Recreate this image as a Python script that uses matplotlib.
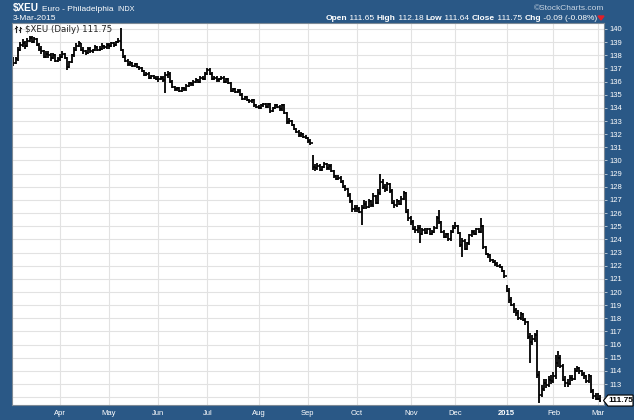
import numpy as np
import pandas as pd
import matplotlib
matplotlib.use('Agg')
import matplotlib.pyplot as plt
from matplotlib.patches import Polygon
from matplotlib.lines import Line2D

W, H = 634, 420

# trading calendar for the year shown
first_day, last_day = '2014-03-04', '2015-03-03'
holidays = ['2014-04-18', '2014-05-26', '2014-07-04', '2014-09-01', '2014-11-27',
            '2014-12-25', '2015-01-01', '2015-01-19', '2015-02-16']

# daily close / high / low of $XEU, one row per month
close_ = (
    [137.4, 137.7, 138.4, 138.8, 138.9, 138.7, 139.1, 139.3, 139.0, 139.2, 138.8, 138.5, 138.3, 137.9, 138.1, 138.0, 137.8, 138.0, 137.6, 137.7]
    + [137.9, 138.1, 137.8, 137.1, 137.5, 138.0, 138.4, 138.7, 138.9, 138.4, 138.3, 138.2, 138.5, 138.3, 138.4, 138.6, 138.4, 138.5, 138.7, 138.6, 138.8]
    + [138.7, 138.9, 138.8, 139.0, 139.1, 138.4, 137.9, 137.6, 137.3, 137.4, 137.2, 137.3, 137.1, 137.0, 136.8, 136.5, 136.6, 136.3, 136.4, 136.3, 136.2]
    + [136.2, 136.3, 136.1, 136.5, 136.6, 136.0, 135.6, 135.4, 135.5, 135.3, 135.5, 135.4, 135.7, 135.9, 135.8, 136.0, 136.1, 136.0, 136.3, 136.2, 136.6]
    + [136.9, 136.6, 136.2, 136.3, 136.1, 136.2, 136.3, 136.0, 136.2, 135.9, 135.3, 135.4, 135.2, 135.3, 135.0, 134.7, 134.8, 134.6, 134.5, 134.6, 134.2, 134.1]
    + [134.0, 134.2, 134.3, 134.1, 134.3, 133.8, 134.0, 134.2, 134.1, 133.9, 134.2, 133.6, 132.9, 133.0, 132.7, 132.4, 132.2, 131.9, 132.0, 131.8, 131.7]
    + [131.5, 131.3, 129.5, 129.4, 129.6, 129.3, 129.5, 129.7, 129.4, 129.6, 129.2, 128.8, 128.6, 128.7, 128.4, 128.0, 127.8, 127.4, 126.9, 126.3, 126.4]
    + [126.3, 126.1, 126.4, 126.7, 126.5, 126.9, 126.6, 127.3, 126.8, 127.5, 128.4, 128.0, 127.8, 128.2, 127.7, 126.8, 126.6, 126.9, 126.7, 127.1, 127.5, 126.1, 125.6]
    + [125.3, 124.8, 124.7, 124.9, 124.4, 124.7, 124.5, 124.8, 124.4, 124.6, 124.9, 125.6, 125.3, 124.6, 124.2, 124.4, 124.0, 124.6, 124.9]
    + [125.0, 124.5, 123.6, 123.9, 123.3, 123.7, 124.3, 124.6, 124.4, 124.8, 124.6, 125.0, 123.4, 122.9, 122.8, 122.4, 122.3, 122.1, 122.0, 121.9, 121.6, 121.2]
    + [120.1, 119.4, 119.0, 118.6, 118.4, 118.0, 118.3, 117.9, 117.7, 116.6, 116.2, 116.4, 116.7, 113.7, 112.2, 112.6, 113.1, 112.9, 113.3, 113.2]
    + [113.6, 114.6, 115.0, 114.4, 113.3, 113.1, 113.0, 113.5, 113.4, 114.0, 114.2, 114.0, 113.8, 113.6, 113.2, 113.6, 112.5, 112.1, 111.9]
    + [111.84, 111.75]
)
high_ = (
    [137.9, 137.9, 138.6, 139.0, 139.2, 139.1, 139.3, 139.5, 139.5, 139.4, 139.3, 138.9, 138.7, 138.4, 138.3, 138.3, 138.2, 138.2, 138.1, 137.9]
    + [138.1, 138.3, 138.2, 137.9, 137.6, 138.1, 138.6, 138.9, 139.1, 138.9, 138.6, 138.4, 138.6, 138.6, 138.5, 138.8, 138.7, 138.7, 138.9, 138.8, 138.9]
    + [138.9, 139.0, 139.0, 139.1, 139.3, 140.1, 138.5, 138.0, 137.7, 137.6, 137.5, 137.4, 137.4, 137.2, 137.1, 136.9, 136.7, 136.7, 136.5, 136.5, 136.4]
    + [136.4, 136.4, 136.4, 136.7, 136.8, 136.7, 136.1, 135.7, 135.6, 135.6, 135.6, 135.6, 135.8, 136.0, 136.0, 136.1, 136.3, 136.2, 136.4, 136.4, 136.7]
    + [137.0, 137.0, 136.7, 136.4, 136.4, 136.3, 136.4, 136.4, 136.3, 136.3, 136.0, 135.5, 135.5, 135.4, 135.4, 135.1, 134.9, 134.9, 134.7, 134.7, 134.7, 134.3]
    + [134.2, 134.3, 134.4, 134.4, 134.4, 134.4, 134.1, 134.3, 134.3, 134.2, 134.3, 134.3, 133.7, 133.2, 133.1, 132.8, 132.5, 132.3, 132.2, 132.1, 131.9]
    + [131.8, 131.6, 130.4, 129.7, 129.8, 129.7, 129.6, 129.9, 129.8, 129.7, 129.7, 129.3, 128.9, 128.9, 128.8, 128.5, 128.1, 127.9, 127.5, 127.0, 126.6]
    + [126.6, 126.5, 126.6, 127.0, 126.9, 127.1, 127.0, 127.5, 127.4, 127.8, 129.0, 128.6, 128.2, 128.4, 128.3, 127.8, 127.0, 127.1, 127.0, 127.3, 127.7, 127.6, 126.3]
    + [125.8, 125.5, 125.0, 125.1, 125.1, 124.9, 124.9, 124.9, 124.9, 124.7, 125.0, 125.8, 126.2, 125.4, 124.7, 124.5, 124.5, 124.7, 125.1]
    + [125.3, 125.1, 124.6, 124.1, 124.0, 123.8, 124.4, 124.7, 124.7, 124.9, 124.9, 125.6, 125.1, 123.5, 123.0, 122.9, 122.5, 122.4, 122.3, 122.1, 122.0, 121.7]
    + [120.5, 120.3, 119.6, 119.2, 118.8, 118.6, 118.5, 118.4, 118.0, 117.8, 116.9, 116.7, 116.9, 117.1, 114.0, 112.9, 113.4, 113.4, 113.6, 113.7]
    + [113.9, 115.2, 115.5, 115.2, 114.5, 113.6, 113.4, 113.7, 113.7, 114.2, 114.4, 114.3, 114.1, 113.9, 113.7, 113.8, 113.7, 112.6, 112.3]
    + [112.3, 112.18]
)
low_ = (
    [137.2, 137.3, 137.6, 138.3, 138.6, 138.5, 138.6, 139.0, 138.9, 138.9, 138.7, 138.3, 138.1, 137.8, 137.8, 137.8, 137.6, 137.7, 137.5, 137.5]
    + [137.6, 137.8, 137.7, 136.9, 137.0, 137.4, 137.9, 138.3, 138.6, 138.3, 138.1, 138.0, 138.1, 138.2, 138.2, 138.3, 138.3, 138.3, 138.4, 138.5, 138.5]
    + [138.5, 138.6, 138.6, 138.7, 138.9, 138.3, 137.8, 137.5, 137.2, 137.2, 137.1, 137.1, 137.0, 136.9, 136.7, 136.4, 136.4, 136.2, 136.2, 136.2, 136.1]
    + [136.0, 136.1, 136.0, 135.1, 136.3, 135.9, 135.5, 135.3, 135.3, 135.2, 135.2, 135.3, 135.3, 135.6, 135.7, 135.7, 135.9, 135.9, 135.9, 136.1, 136.1]
    + [136.5, 136.5, 136.1, 136.1, 136.0, 136.0, 136.1, 135.9, 135.9, 135.8, 135.2, 135.2, 135.1, 135.1, 134.9, 134.6, 134.6, 134.5, 134.4, 134.4, 134.1, 134.0]
    + [133.9, 133.9, 134.1, 134.0, 134.0, 133.6, 133.7, 133.9, 134.0, 133.8, 133.8, 133.5, 132.8, 132.8, 132.6, 132.3, 132.1, 131.8, 131.8, 131.7, 131.6]
    + [131.3, 131.2, 129.3, 129.2, 129.3, 129.2, 129.2, 129.4, 129.3, 129.3, 129.1, 128.7, 128.5, 128.5, 128.3, 127.9, 127.7, 127.2, 126.8, 126.1, 126.1]
    + [126.1, 126.0, 125.1, 126.3, 126.3, 126.4, 126.5, 126.5, 126.7, 126.7, 127.4, 127.8, 127.6, 127.7, 127.5, 126.7, 126.4, 126.5, 126.6, 126.6, 127.0, 126.0, 125.4]
    + [125.1, 124.7, 124.5, 124.5, 123.7, 124.3, 124.4, 124.4, 124.3, 124.3, 124.5, 124.8, 125.2, 124.5, 124.1, 124.1, 123.9, 123.9, 124.5]
    + [124.8, 124.4, 123.4, 122.7, 123.2, 123.2, 123.6, 124.2, 124.3, 124.3, 124.5, 124.5, 123.3, 122.8, 122.6, 122.3, 122.2, 122.0, 121.9, 121.8, 121.5, 121.1]
    + [120.0, 119.2, 118.9, 118.4, 118.2, 117.9, 117.9, 117.8, 117.5, 116.4, 114.6, 116.0, 116.2, 113.5, 111.6, 112.0, 112.5, 112.7, 112.8, 113.0]
    + [113.1, 113.4, 114.3, 114.2, 113.2, 112.8, 112.8, 112.9, 113.2, 113.3, 113.9, 113.8, 113.6, 113.4, 113.1, 113.1, 112.3, 111.9, 111.8]
    + [111.8, 111.64]
)
first_open = 137.6

month_labels = ['Apr', 'May', 'Jun', 'Jul', 'Aug', 'Sep', 'Oct', 'Nov', 'Dec', '2015', 'Feb', 'Mar']
price_ticks = list(range(112, 141))

header_quote = [('Open', True), (' 111.65 ', False), ('High', True), (' 112.18 ', False),
                ('Low', True), (' 111.64 ', False), ('Close', True), (' 111.75 ', False),
                ('Chg', True), (' -0.09 (-0.08%)', False)]

frame = '#2a5886'
days = pd.bdate_range(first_day, last_day)
days = days[~days.isin(pd.to_datetime(holidays))]
months = days.to_period('M')
month_starts = [i for i in range(1, len(days)) if months[i] != months[i - 1]]

close_ = np.array(close_)
high_ = np.array(high_)
low_ = np.array(low_)
open_ = np.concatenate([[first_open], close_[:-1]])
x = np.arange(len(close_))


def fx(px):
    return px / W


def fy(py):
    return 1 - py / H


plt.rcParams['font.family'] = ['Liberation Sans', 'DejaVu Sans']
fig = plt.figure(figsize=(W / 100, H / 100), dpi=100, facecolor=frame)
ax = fig.add_axes([fx(12), fy(405), (604 - 12) / W, (405 - 23.3) / H])
ax.set_facecolor('white')

ax.vlines(x, low_, high_, color='black', lw=1.3)
ax.hlines(open_, x - 0.5, x, color='black', lw=1.2)
ax.hlines(close_, x, x + 0.5, color='black', lw=1.2)

ax.set_xlim(-0.5, 252.6)
ax.set_ylim(111.41, 140.43)
ax.set_xticks(month_starts)
ax.set_xticklabels(month_labels)
ax.set_yticks(price_ticks)
# the 112 label sits under the last-price tag
ax.set_yticklabels([''] + [str(p) for p in price_ticks[1:]])
ax.yaxis.tick_right()
ax.grid(True, color='#e2e2e2', lw=0.8)
ax.set_axisbelow(True)
ax.tick_params(axis='x', length=0, pad=3.5, labelsize=5.5, labelcolor='white')
ax.tick_params(axis='y', length=2, width=0.6, color='#c8d2dc', pad=2,
               labelsize=5.5, labelcolor='white')
ax.get_xticklabels()[9].set_fontweight('bold')
for sp in ax.spines.values():
    sp.set_color('#7d8a96')
    sp.set_linewidth(0.8)

# legend line inside the chart
ax.text(fx(25), fy(31.5), r'\$XEU (Daily) 111.75', transform=fig.transFigure,
        fontsize=6.2, family='DejaVu Sans', color='#222222', va='baseline')
for xs, ys in [([16, 16], [26, 32]), ([15, 16], [28, 28]), ([16, 17], [27, 27]),
               ([20, 20], [27, 32]), ([19, 20], [30, 30]), ([20, 21], [28, 28])]:
    fig.lines.append(Line2D([fx(v) for v in xs], [fy(v) for v in ys], color='#222222',
                            lw=0.8, transform=fig.transFigure))

# header, left side
t = fig.text(fx(13), fy(11), r'\$XEU', fontsize=7.2, fontweight='bold', color='white')
fig.canvas.draw()
r = fig.canvas.get_renderer()
bb = t.get_window_extent(r)
t2 = fig.text(fx(bb.x1 + 3), fy(11), 'Euro - Philadelphia', fontsize=6, color='white')
bb2 = t2.get_window_extent(r)
fig.text(fx(bb2.x1 + 4), fy(11), 'INDX', fontsize=5.2, color='white')
fig.text(fx(13), fy(20.5), '3-Mar-2015', fontsize=6, color='white')

# header, right side
fig.text(fx(604), fy(9.5), '\u00a9StockCharts.com', fontsize=6, color='#c9d5e2', ha='right')
pieces = []
for txt, bold in header_quote:
    pieces.append(fig.text(0, fy(20.5), txt, fontsize=6, color='white',
                           fontweight='bold' if bold else 'normal'))
widths = [p.get_window_extent(r).width for p in pieces]
xpos = 597 - sum(widths)
for p, w in zip(pieces, widths):
    p.set_x(fx(xpos))
    xpos += w
fig.patches.append(Polygon([(fx(598), fy(16)), (fx(604), fy(16)), (fx(601), fy(20))],
                           closed=True, color='#e0202a', transform=fig.transFigure))

# last price tag
yl = ax.transData.transform((0, close_[-1]))[1]
yl = H - yl
tag = [(603.5, yl), (608, yl - 5.5), (633, yl - 5.5), (633, yl + 5.5), (608, yl + 5.5)]
fig.patches.append(Polygon([(fx(a), fy(b)) for a, b in tag], closed=True, facecolor='white',
                           edgecolor='black', lw=0.8, transform=fig.transFigure))
fig.text(fx(620.5), fy(yl), '111.75', fontsize=6, fontweight='bold', color='black',
         ha='center', va='center')

fig.savefig('out.png', dpi=100, facecolor=frame)
